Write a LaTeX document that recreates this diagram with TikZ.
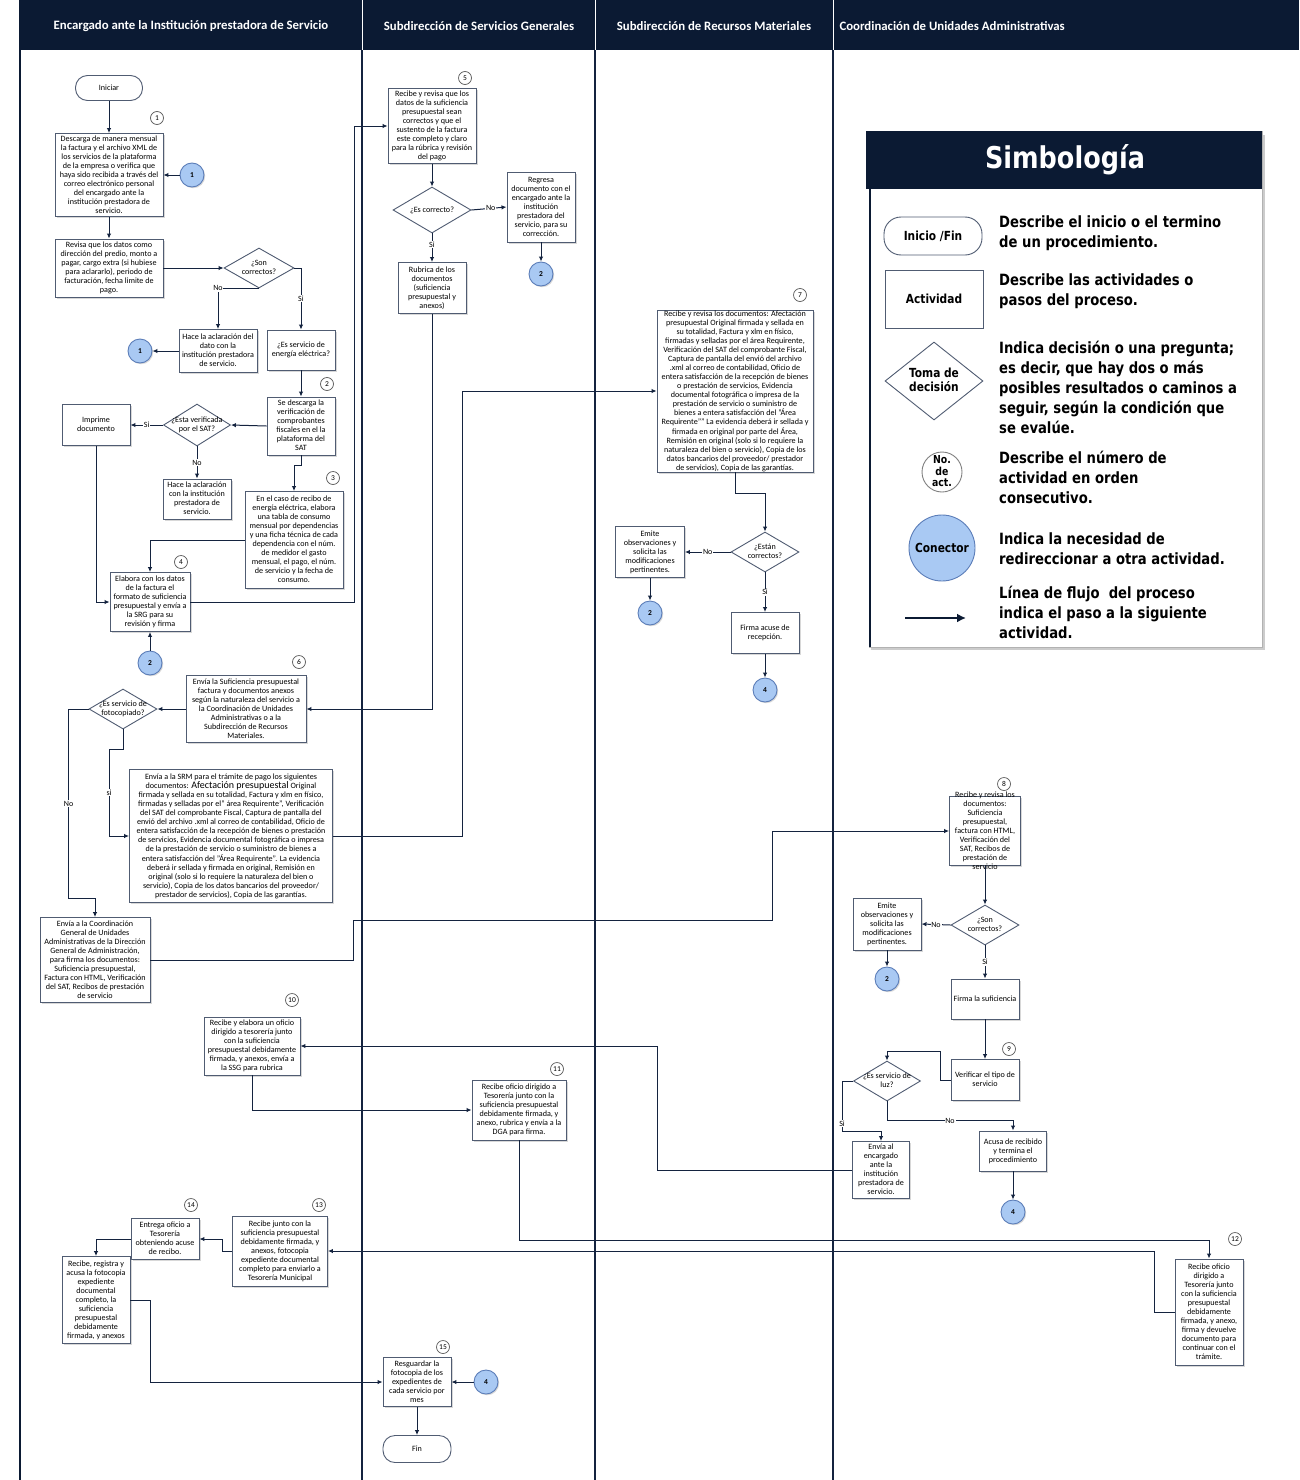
\documentclass[tikz,border=0pt]{standalone}
\usepackage{fontspec}
\setmainfont{Carlito}
\newfontfamily\legfont[FakeStretch=0.85]{DejaVu Sans}
\usetikzlibrary{shapes.geometric,arrows.meta,shadows,calc}
\definecolor{navy}{HTML}{0B1A33}
\definecolor{linec}{HTML}{14233F}
\definecolor{boxc}{HTML}{505C72}
\definecolor{connf}{HTML}{A9C9F3}
\definecolor{connb}{HTML}{5B7DB8}
\definecolor{numb}{HTML}{5A5A5A}
\newcommand{\tx}[1]{\makebox[0pt]{\smash{\raisebox{-0.3em}{\begin{tabular}[c]{@{}c@{}}#1\end{tabular}}}}}
\tikzset{
 box/.style={rectangle, draw=boxc, line width=0.9pt, fill=white, inner sep=0pt,
   drop shadow={shadow xshift=1.5pt, shadow yshift=-1.5pt, opacity=0.3}},
 dia/.style={diamond, draw=boxc, line width=0.9pt, fill=white, inner sep=0pt},
 term/.style={rectangle, rounded corners=12pt, draw=boxc, line width=0.9pt, fill=white, inner sep=0pt},
 conn/.style={circle, draw=connb, fill=connf, line width=0.9pt, minimum size=24, inner sep=0pt,
   font=\fontsize{7.5}{8}\selectfont\bfseries,
   drop shadow={shadow xshift=1.2pt, shadow yshift=-1.2pt, opacity=0.3}},
 numc/.style={circle, draw=numb, line width=0.7pt, fill=white, minimum size=13, inner sep=0pt,
   font=\fontsize{7.5}{8}\selectfont},
 flow/.style={draw=linec, line width=1pt, -{Latex[length=5pt,width=4.5pt]}},
 lbl/.style={fill=white, inner sep=0.8pt, font=\fontsize{8}{9}\selectfont},
 lanehd/.style={text=white, font=\fontsize{12.8}{14}\selectfont\bfseries},
 legtxt/.style={anchor=west, align=left, font=\legfont\bfseries\fontsize{15.5}{20}\selectfont, inner sep=0pt},
 legshape/.style={draw=boxc, line width=0.9pt, fill=white, inner sep=0pt, font=\legfont\bfseries\fontsize{12.5}{14}\selectfont},
}
\begin{document}
\begin{tikzpicture}[x=1pt,y=-1pt, every node/.style={font=\fontsize{8.1}{9}\selectfont}]
\useasboundingbox (0,0) rectangle (1299,1480);
\fill[white] (0,0) rectangle (1299,1480);
% frame and lanes
\fill[navy] (20,0) rectangle (1299,50);
\draw[navy, line width=2.5pt] (20,0) -- (20,1480);
\foreach \xx in {362,595,833} {
  \draw[linec, line width=1.3pt] (\xx,50) -- (\xx,1480);
  \draw[white, line width=0.8pt] (\xx,0) -- (\xx,50);
}
\node[lanehd] (h1) at (191,26) {Encargado ante la Institución prestadora de Servicio};
\node[lanehd] (h2) at (479,26) {Subdirección de Servicios Generales};
\node[lanehd] (h3) at (714,26) {Subdirección de Recursos Materiales};
\node[lanehd, anchor=west] (h4) at (836,26) {Coordinación de Unidades Administrativas};

% ---------- Lane 1 ----------
\node[term, minimum width=67, minimum height=25] (start) at (109,88) {\tx{Iniciar}};
\node[numc] (n1) at (157,118) {1};
\node[box, minimum width=108, minimum height=83] (a1) at (109,175) {\tx{Descarga de manera mensual\\la factura y el archivo XML de\\los servicios de la plataforma\\de la empresa o verifica que\\haya sido recibida a través del\\correo electrónico personal\\del encargado ante la\\institución prestadora de\\servicio.}};
\node[conn] (c1a) at (192,175) {1};
\node[box, minimum width=108, minimum height=58] (a2) at (109,268) {\tx{Revisa que los datos como\\dirección del predio, monto a\\pagar, cargo extra (si hubiese\\para aclararlo), periodo de\\facturación, fecha limite de\\pago.}};
\node[dia, minimum width=70, minimum height=40] (d1) at (259,268) {\tx{¿Son\\correctos?}};
\node[box, minimum width=78, minimum height=43] (hc1) at (218,351) {\tx{Hace la aclaración del\\dato con la\\institución prestadora\\de servicio.}};
\node[conn] (c1b) at (140,351) {1};
\node[box, minimum width=68, minimum height=40] (e1) at (301,350) {\tx{¿Es servicio de\\energía eléctrica?}};
\node[numc] (n2) at (327,384) {2};
\node[box, minimum width=68, minimum height=58] (s1) at (301,426) {\tx{Se descarga la\\verificación de\\comprobantes\\fiscales en el la\\plataforma del\\SAT}};
\node[dia, minimum width=67, minimum height=42] (d2) at (197,425) {\tx{¿Esta verificada\\por el SAT?}};
\node[box, minimum width=68, minimum height=41] (imp) at (96,425) {\tx{Imprime\\documento}};
\node[box, minimum width=68, minimum height=40] (hc2) at (197,499) {\tx{Hace la aclaración\\con la institución\\prestadora de\\servicio.}};
\node[numc] (n3) at (333,478) {3};
\node[box, minimum width=98, minimum height=97] (b3) at (294,540) {\tx{En el caso de recibo de\\energía eléctrica, elabora\\una tabla de consumo\\mensual por dependencias\\y una ficha técnica de cada\\dependencia con el núm.\\de medidor el gasto\\mensual, el pago, el núm.\\de servicio y la fecha de\\consumo.}};
\node[numc] (n4) at (181,562) {4};
\node[box, minimum width=80, minimum height=59] (b4) at (150,602) {\tx{Elabora con los datos\\de la factura el\\formato de suficiencia\\presupuestal y envía a\\la SRG para su\\revisión y firma}};
\node[conn] (c2a) at (150,663) {2};

% ---------- Lane 2 ----------
\node[numc] (n5) at (465,78) {5};
\node[box, minimum width=88, minimum height=75] (b5) at (432,126) {\tx{Recibe y revisa que los\\datos de la suficiencia\\presupuestal sean\\correctos y que el\\sustento de la factura\\este completo y claro\\para la rúbrica y revisión\\del pago}};
\node[dia, minimum width=78, minimum height=46] (d3) at (432,210) {\tx{¿Es correcto?}};
\node[box, minimum width=68, minimum height=70] (rg) at (541,207) {\tx{Regresa\\documento con el\\encargado ante la\\institución\\prestadora del\\servicio, para su\\corrección.}};
\node[conn] (c2b) at (541,274) {2};
\node[box, minimum width=68, minimum height=51] (rub) at (432,288) {\tx{Rubrica de los\\documentos\\(suficiencia\\presupuestal y\\anexos)}};
\node[numc] (n6) at (299,662) {6};
\node[box, minimum width=120, minimum height=67] (b6) at (246,709) {\tx{Envía la Suficiencia presupuestal\\factura y documentos anexos\\según la naturaleza del servicio a\\la Coordinación de Unidades\\Administrativas o a la\\Subdirección de Recursos\\Materiales.}};
\node[dia, minimum width=68, minimum height=40] (d4) at (123,709) {\tx{¿Es servicio de\\fotocopiado?}};
\node[box, minimum width=203, minimum height=133] (srm) at (231,836) {\tx{Envía a la SRM para el trámite de pago los siguientes\\documentos: {\fontsize{10}{9}\selectfont Afectación presupuestal} Original\\firmada y sellada en su totalidad, Factura y xlm en físico,\\firmadas y selladas por el" área Requirente", Verificación\\del SAT del comprobante Fiscal, Captura de pantalla del\\envió del archivo .xml al correo de contabilidad, Oficio de\\entera satisfacción de la recepción de bienes o prestación\\de servicios, Evidencia documental fotográfica o impresa\\de la prestación de servicio o suministro de bienes a\\entera satisfacción del "Área Requirente". La evidencia\\deberá ir sellada y firmada en original, Remisión en\\original (solo si lo requiere la naturaleza del bien o\\servicio), Copia de los datos bancarios del proveedor/\\prestador de servicios), Copia de las garantías.}};
\node[box, minimum width=110, minimum height=85] (cg) at (95,960) {\tx{Envía a la Coordinación\\General de Unidades\\Administrativas de la Dirección\\General de Administración,\\para firma los documentos:\\Suficiencia presupuestal,\\Factura con HTML, Verificación\\del SAT, Recibos de prestación\\de servicio}};

% ---------- Lane 3 ----------
\node[numc] (n7) at (800,295) {7};
\node[box, minimum width=156, minimum height=162] (b7) at (735,391) {\tx{Recibe y revisa los documentos: Afectación\\presupuestal Original firmada y sellada en\\su totalidad, Factura y xlm en físico,\\firmadas y selladas por el área Requirente,\\Verificación del SAT del comprobante Fiscal,\\Captura de pantalla del envió del archivo\\.xml al correo de contabilidad, Oficio de\\entera satisfacción de la recepción de bienes\\o prestación de servicios, Evidencia\\documental fotográfica o impresa de la\\prestación de servicio o suministro de\\bienes a entera satisfacción del "Área\\Requirente"" La evidencia deberá ir sellada y\\firmada en original por parte del Área,\\Remisión en original (solo si lo requiere la\\naturaleza del bien o servicio), Copia de los\\datos bancarios del proveedor/ prestador\\de servicios), Copia de las garantías.}};
\node[dia, minimum width=68, minimum height=40] (d5) at (765,552) {\tx{¿Están\\correctos?}};
\node[box, minimum width=69, minimum height=51] (em1) at (650,552) {\tx{Emite\\observaciones y\\solicita las\\modificaciones\\pertinentes.}};
\node[conn] (c2c) at (650,613) {2};
\node[box, minimum width=68, minimum height=41] (fa) at (765,633) {\tx{Firma acuse de\\recepción.}};
\node[conn] (c4a) at (765,690) {4};

% ---------- Lane 4 ----------
\node[numc] (n8) at (1004,784) {8};
\node[box, minimum width=71, minimum height=69] (b8) at (985,831) {\tx{Recibe y revisa los\\documentos:\\Suficiencia\\presupuestal,\\factura con HTML,\\Verificación del\\SAT, Recibos de\\prestación de\\servicio}};
\node[dia, minimum width=68, minimum height=40] (d6) at (985,925) {\tx{¿Son\\correctos?}};
\node[box, minimum width=68, minimum height=52] (em2) at (887,924) {\tx{Emite\\observaciones y\\solicita las\\modificaciones\\pertinentes.}};
\node[conn] (c2d) at (887,979) {2};
\node[box, minimum width=68, minimum height=40] (fs) at (985,999) {\tx{Firma la suficiencia}};
\node[box, minimum width=68, minimum height=41] (vt) at (985,1080) {\tx{Verificar el tipo de\\servicio}};
\node[numc] (n9) at (1009,1049) {9};
\node[dia, minimum width=67, minimum height=40] (d7) at (887,1081) {\tx{¿Es servicio de\\luz?}};
\node[box, minimum width=57, minimum height=57] (ee) at (881,1170) {\tx{Envía al\\encargado\\ante la\\institución\\prestadora de\\servicio.}};
\node[box, minimum width=67, minimum height=40] (ac) at (1013,1151) {\tx{Acusa de recibido\\y termina el\\procedimiento}};
\node[conn] (c4b) at (1013,1212) {4};

% ---------- Lower part ----------
\node[numc] (n10) at (292,1000) {10};
\node[box, minimum width=96, minimum height=58] (b10) at (252,1046) {\tx{Recibe y elabora un oficio\\dirigido a tesorería junto\\con la suficiencia\\presupuestal debidamente\\firmada, y anexos, envía a\\la SSG para rubrica}};
\node[numc] (n11) at (557,1069) {11};
\node[box, minimum width=94, minimum height=60] (b11) at (519,1110) {\tx{Recibe oficio dirigido a\\Tesorería junto con la\\suficiencia presupuestal\\debidamente firmada, y\\anexo, rubrica y envía a la\\DGA para firma.}};
\node[numc] (n12) at (1235,1239) {12};
\node[box, minimum width=68, minimum height=106] (b12) at (1209,1312) {\tx{Recibe oficio\\dirigido a\\Tesorería junto\\con la suficiencia\\presupuestal\\debidamente\\firmada, y anexo,\\firma y devuelve\\documento para\\continuar con el\\trámite.}};
\node[numc] (n13) at (319,1205) {13};
\node[box, minimum width=95, minimum height=70] (b13) at (280,1251) {\tx{Recibe junto con la\\suficiencia presupuestal\\debidamente firmada, y\\anexos, fotocopia\\expediente documental\\completo para enviarlo a\\Tesorería Municipal}};
\node[numc] (n14) at (191,1205) {14};
\node[box, minimum width=68, minimum height=41] (b14) at (165,1239) {\tx{Entrega oficio a\\Tesorería\\obteniendo acuse\\de recibo.}};
\node[box, minimum width=68, minimum height=87] (rr) at (96,1300) {\tx{Recibe, registra y\\acusa la fotocopia\\expediente\\documental\\completo, la\\suficiencia\\presupuestal\\debidamente\\firmada, y anexos}};
\node[numc] (n15) at (443,1347) {15};
\node[box, minimum width=68, minimum height=49] (b15) at (417,1382) {\tx{Resguardar la\\fotocopia de los\\expedientes de\\cada servicio por\\mes}};
\node[conn] (c4c) at (486,1382) {4};
\node[term, minimum width=68, minimum height=27] (fin) at (417,1449) {\tx{Fin}};

% ---------- Connectors ----------
\draw[flow] (start) -- (a1);
\draw[flow] (c1a) -- (a1);
\draw[flow] (a1) -- (a2);
\draw[flow] (a2.east) -- (d1.west);
\draw[flow] (d1.south) -| node[lbl, pos=0.5] {No} (hc1.north);
\draw[flow] (d1.east) -| node[lbl, pos=0.75] {Si} (e1.north);
\draw[flow] (hc1.west) -- (c1b.east);
\draw[flow] (e1.south) -- (s1.north);
\draw[flow] (s1.west) -- (d2.east);
\draw[flow] (d2.west) -- node[lbl] {Si} (imp.east);
\draw[flow] (d2.south) -- node[lbl] {No} (hc2.north);
\draw[flow] (s1.south) -- ++(0,10) -| (b3.north);
\draw[flow] (b3.west) -| (b4.north);
\draw[flow] (imp.south) |- (b4.west);
\draw[flow] (c2a.north) -- (b4.south);
\draw[flow] (b4.east) -- ++(164,0) |- (b5.west);
\draw[flow] (b5.south) -- (d3.north);
\draw[flow] (d3.east) -- node[lbl, pos=0.55] {No} (rg.west);
\draw[flow] (rg.south) -- (c2b.north);
\draw[flow] (d3.south) -- node[lbl, pos=0.4] {Si} (rub.north);
\draw[flow] (rub.south) |- (b6.east);
\draw[flow] (b6.west) -- (d4.east);
\draw[flow] (d4.west) -- ++(-20,0) -- node[lbl] {No} ++(0,189) -| (cg.north);
\draw[flow] (d4.south) -- ++(0,20) -| node[lbl, pos=0.75] {si} ($(srm.west)+(-20,0)$) -- (srm.west);
\draw[flow] (srm.east) -- ++(130,0) |- (b7.west);
\draw[flow] (cg.east) -- (353,960) -- (353,920) -- (772,920) |- (b8.west);
\draw[flow] (b7.south) -- ++(0,21) -| (d5.north);
\draw[flow] (d5.west) -- node[lbl] {No} (em1.east);
\draw[flow] (em1.south) -- (c2c.north);
\draw[flow] (d5.south) -- node[lbl] {Si} (fa.north);
\draw[flow] (fa.south) -- (c4a.north);
\draw[flow] (b8.south) -- (d6.north);
\draw[flow] (d6.west) -- node[lbl] {No} (em2.east);
\draw[flow] (em2.south) -- (c2d.north);
\draw[flow] (d6.south) -- node[lbl] {Si} (fs.north);
\draw[flow] (fs.south) -- (vt.north);
\draw[flow] (vt.west) -- ++(-10,0) -- ++(0,-29) -| (d7.north);
\draw[flow] (d7.west) -- ++(-11,0) -- node[lbl, pos=0.85] {Si} ++(0,50) -| (ee.north);
\draw[flow] (d7.south) -- ++(0,19) -| node[lbl, pos=0.25] {No} (ac.north);
\draw[flow] (ac.south) -- (c4b.north);
\draw[flow] (ee.west) -- ++(-195,0) |- (b10.east);
\draw[flow] (b10.south) |- (b11.west);
\draw[flow] (b11.south) -- ++(0,100) -| (b12.north);
\draw[flow] (b12.west) -- ++(-20,0) |- (b13.east);
\draw[flow] (b13.west) -- ++(-10,0) |- (b14.east);
\draw[flow] (b14.west) -| (rr.north);
\draw[flow] (rr.east) -- ++(20,0) |- (b15.west);
\draw[flow] (c4c.west) -- (b15.east);
\draw[flow] (b15.south) -- (fin.north);

% ---------- Legend ----------
\fill[gray!40] (871,135) rectangle (1265,650);
\draw[gray!60, line width=1pt, fill=white] (869,131) rectangle (1262,647);
\fill[navy] (866,131) rectangle (1262,189);
\draw[navy, line width=2.5pt] (870,131) -- (870,647);
\node[text=white, font=\legfont\bfseries\fontsize{30}{32}\selectfont] (lgt) at (1065,160) {Simbología};
\node[legshape, rectangle, rounded corners=17pt, minimum width=98, minimum height=38] (lt) at (933,236) {Inicio /Fin};
\node[legshape, rectangle, minimum width=98, minimum height=58] (la) at (934,299) {Actividad};
\node[legshape, diamond, minimum width=98, minimum height=78] (ld) at (934,381) {\tx{Toma de\\decisión}};
\node[legshape, circle, minimum size=40, draw=gray, font=\legfont\bfseries\fontsize{11}{11}\selectfont] (ln) at (942,472) {\tx{No.\\de\\act.}};
\node[legshape, circle, minimum size=66, fill=connf, draw=connb] (lc) at (942,548) {Conector};
\coordinate (la1) at (905,618);
\coordinate (la2) at (966,618);
\draw[navy, line width=2.5pt, -{Latex[length=9pt,width=9pt]}] (la1) -- (la2);
\node[legtxt] (t1) at (999,233) {Describe el inicio o el termino\\de un procedimiento.};
\node[legtxt] (t2) at (999,291) {Describe las actividades o\\pasos del proceso.};
\node[legtxt] (t3) at (999,387) {Indica decisión o una pregunta;\\es decir, que hay dos o más\\posibles resultados o caminos a\\seguir, según la condición que\\se evalúe.};
\node[legtxt] (t4) at (999,477) {Describe el número de\\actividad en orden\\consecutivo.};
\node[legtxt] (t5) at (999,549) {Indica la necesidad de\\redireccionar a otra actividad.};
\node[legtxt] (t6) at (999,612) {Línea de flujo\ \ del proceso\\indica el paso a la siguiente\\actividad.};
\end{tikzpicture}
\end{document}
